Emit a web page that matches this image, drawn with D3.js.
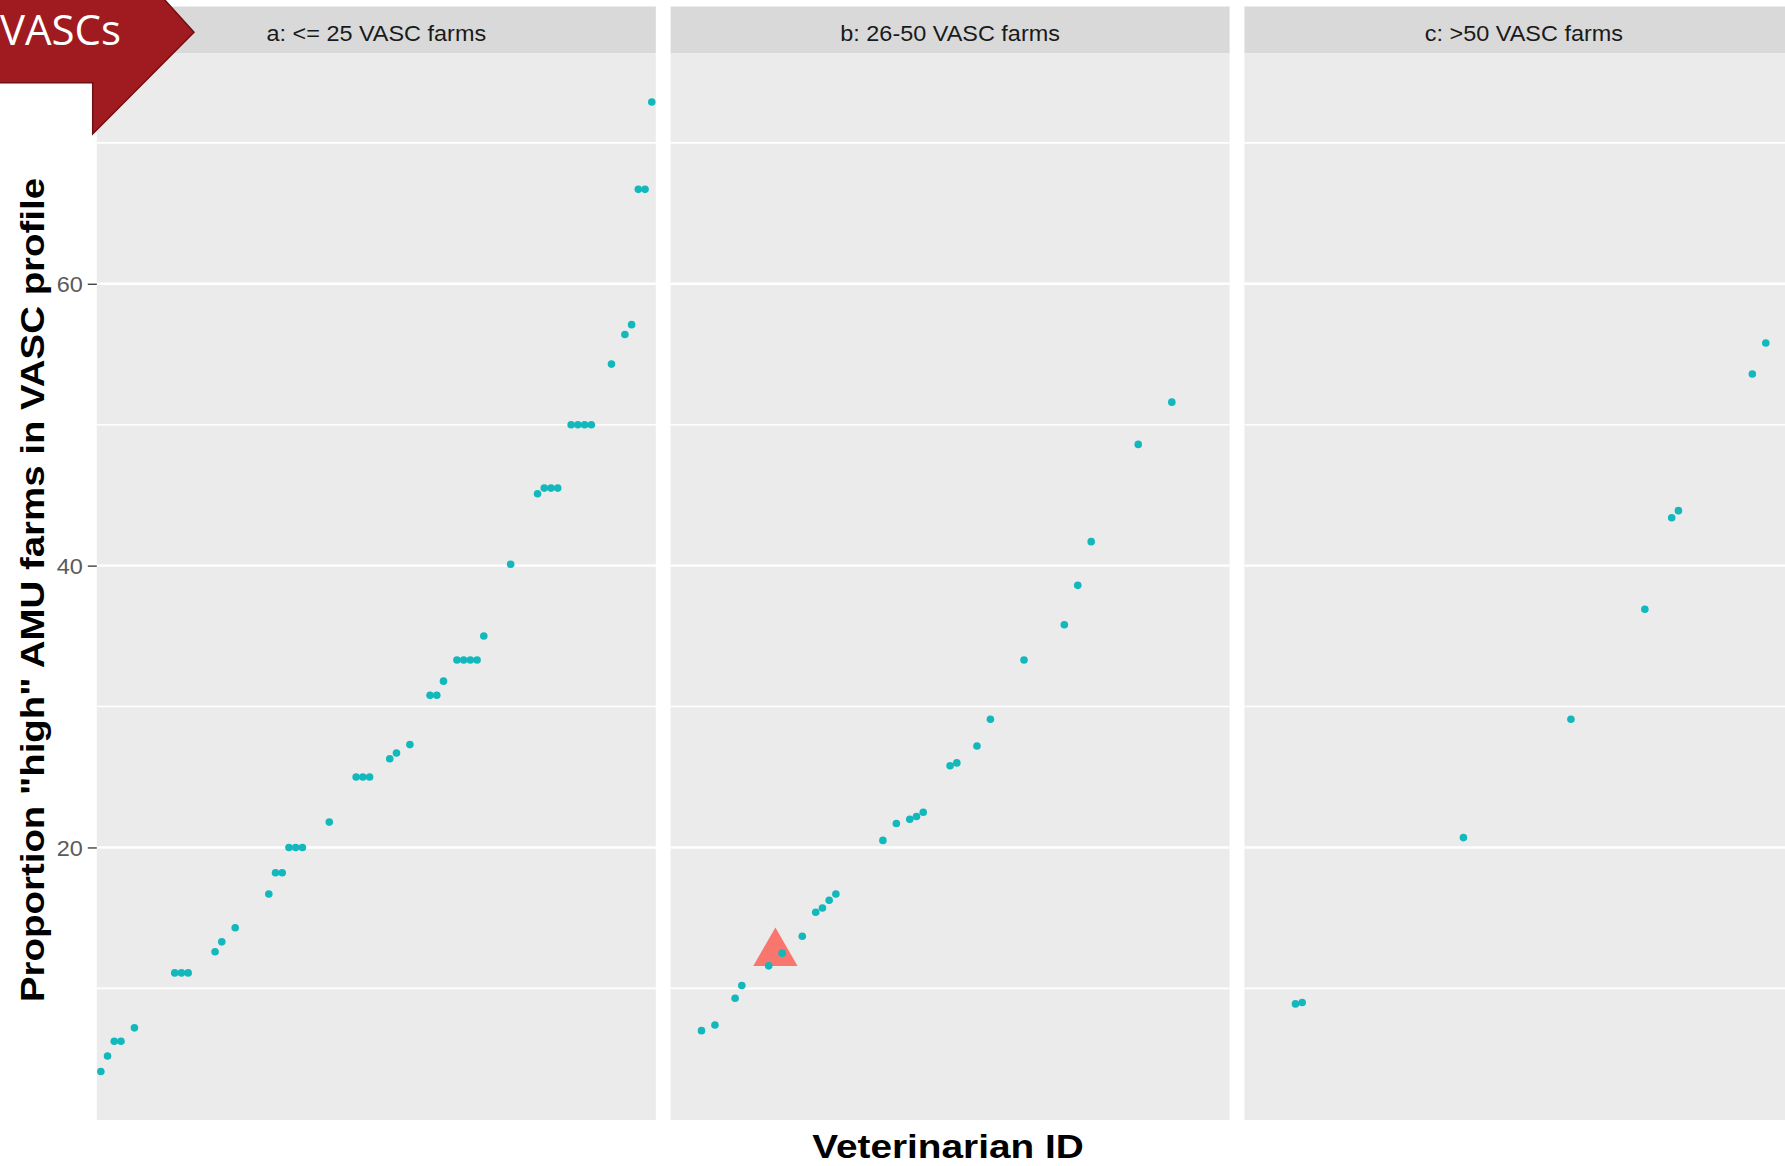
<!DOCTYPE html>
<html><head><meta charset="utf-8">
<script src="https://cdn.jsdelivr.net/npm/d3@7"></script>
<style>html,body{margin:0;padding:0;background:#fff;overflow:hidden}</style>
</head><body>
<script>
// ---- data ----
const panelLabels = ["a: <= 25 VASC farms", "b: 26-50 VASC farms", "c: >50 VASC farms"];
// Veterinarian ID (rank order on the shared discrete x axis) and proportion per panel
const vetA  = [1,2,3,4,6,12,13,14,18,19,21,26,27,28,29,30,31,35,39,40,41,44,45,47,50,51,52,54,55,56,57,58,62,66,67,68,69,71,72,73,74,77,79,80,81,82,83];
const propA = [4.1,5.2,6.25,6.25,7.2,11.1,11.1,11.1,12.6,13.3,14.3,16.7,18.2,18.2,20,20,20,21.8,25,25,25,26.3,26.7,27.3,30.8,30.8,31.8,33.3,33.3,33.3,33.3,35.0,40.1,45.1,45.5,45.5,45.5,50,50,50,50,54.3,56.4,57.1,66.7,66.7,72.9];
const vetB  = [5,7,10,11,15,16,17,20,22,23,24,25,32,34,36,37,38,42,43,46,48,53,59,61,63,70,75];
const propB = [7.0,7.4,9.3,10.2,11.6,12.5,12.5,13.7,15.4,15.7,16.25,16.7,20.5,21.7,22.0,22.2,22.5,25.8,26.0,27.2,29.1,33.3,35.8,38.6,41.7,48.6,51.6];
const vetC  = [8,9,33,49,60,64,65,76,78];
const propC = [8.9,9.0,20.7,29.1,36.9,43.4,43.9,53.6,55.8];
const highlightVet = 16;           // shown as the red triangle in panel b
const yMajorTicks = [20,40,60];
const yMinorTicks = [10,30,50,70];
const xTitle = "Veterinarian ID";
const yTitle = 'Proportion "high" AMU farms in VASC profile';
const bannerText = "VASCs";

// ---- layout ----
const W = 1785, H = 1166;
const panelX0 = 96.8, panelW = 559, panelGap = 14.8;
const stripTop = 6.5, stripBottom = 53.5, panelBottom = 1120;
const FONT = "'Liberation Sans', Arial, Helvetica, sans-serif";
const STRETCH = 1.09;

const svg = d3.select("body").append("svg").attr("width", W).attr("height", H);
svg.append("rect").attr("width", W).attr("height", H).attr("fill", "#fff");

const panels = [
  {label: panelLabels[0], vets: vetA, props: propA},
  {label: panelLabels[1], vets: vetB, props: propB},
  {label: panelLabels[2], vets: vetC, props: propC}
];

const allVets = [...vetA, ...vetB, ...vetC].sort((a, b) => a - b);
const allProps = [...propA, ...propB, ...propC];
const [lo, hi] = d3.extent(allProps);
const pad = (hi - lo) * 0.05;
const y = d3.scaleLinear().domain([lo - pad, hi + pad]).range([panelBottom, stripBottom]);
const x = d3.scalePoint().domain(allVets).range([0, panelW]).padding(0.6);

function stretchText(sel, factor) {
  sel.each(function() {
    const len = this.getComputedTextLength();
    d3.select(this).attr("textLength", len * factor).attr("lengthAdjust", "spacingAndGlyphs");
  });
}

panels.forEach((p, i) => {
  const gx = panelX0 + i * (panelW + panelGap);
  const g = svg.append("g").attr("transform", `translate(${gx},0)`);
  // strip
  g.append("rect").attr("x", 0).attr("y", stripTop).attr("width", panelW)
    .attr("height", stripBottom - stripTop).attr("fill", "#D9D9D9");
  const st = g.append("text").attr("x", panelW / 2).attr("y", 40.5)
    .attr("text-anchor", "middle").attr("font-family", FONT).attr("font-size", 21.5)
    .attr("fill", "#1A1A1A").text(p.label);
  stretchText(st, STRETCH);
  // panel background
  g.append("rect").attr("x", 0).attr("y", stripBottom).attr("width", panelW)
    .attr("height", panelBottom - stripBottom).attr("fill", "#EBEBEB");
  // grid
  g.selectAll("line.minor").data(yMinorTicks).join("line").attr("class", "minor")
    .attr("x1", 0).attr("x2", panelW).attr("y1", d => y(d)).attr("y2", d => y(d))
    .attr("stroke", "#fff").attr("stroke-width", 1.6);
  g.selectAll("line.major").data(yMajorTicks).join("line").attr("class", "major")
    .attr("x1", 0).attr("x2", panelW).attr("y1", d => y(d)).attr("y2", d => y(d))
    .attr("stroke", "#fff").attr("stroke-width", 2.4);

  const pts = p.vets.map((v, k) => ({vet: v, prop: p.props[k]}));
  // highlighted vet (triangle)
  const hl = pts.filter(d => d.vet === highlightVet);
  g.selectAll("path.hl").data(hl).join("path").attr("class", "hl")
    .attr("d", d3.symbol(d3.symbolTriangle, 850))
    .attr("transform", d => `translate(${x(d.vet)},${y(d.prop)})`)
    .attr("fill", "#F8766D");
  // points
  g.selectAll("circle").data(pts.filter(d => d.vet !== highlightVet)).join("circle")
    .attr("cx", d => x(d.vet)).attr("cy", d => y(d.prop)).attr("r", 3.8)
    .attr("fill", "#12B8BB");
});

// y axis (left of panel a)
const yAxis = svg.append("g").attr("transform", `translate(${panelX0},0)`)
  .call(d3.axisLeft(y).tickValues(yMajorTicks).tickSize(9).tickPadding(5).tickFormat(d3.format("d")));
yAxis.select(".domain").remove();
yAxis.selectAll(".tick line").attr("stroke", "#333").attr("stroke-width", 1.3);
yAxis.selectAll(".tick text").attr("fill", "#5A5A5A").attr("font-family", FONT)
  .attr("font-size", 21.5).attr("dy", "0.36em");
stretchText(yAxis.selectAll(".tick text"), STRETCH);

// axis titles
const xt = svg.append("text").attr("x", 948).attr("y", 1158)
  .attr("text-anchor", "middle").attr("font-family", FONT).attr("font-weight", "bold")
  .attr("font-size", 34).attr("fill", "#000").text(xTitle);
stretchText(xt, 1.14);
const yt = svg.append("text").attr("transform", "translate(44,590) rotate(-90)")
  .attr("text-anchor", "middle").attr("font-family", FONT).attr("font-weight", "bold")
  .attr("font-size", 34).attr("fill", "#000").text(yTitle);
stretchText(yt, 1.13);

// banner (slide decoration)
svg.append("path")
  .attr("d", d3.line()([[-2,-2],[163,-2],[194,32.3],[92.7,134],[92.7,82.7],[-2,82.7]]) + "Z")
  .attr("fill", "#A01B20").attr("stroke", "#6E1013").attr("stroke-width", 1.5);
svg.append("text").attr("x", 121).attr("y", 45).attr("text-anchor", "end")
  .attr("font-family", "'Open Sans', 'Noto Sans', sans-serif").attr("font-size", 42)
  .attr("fill", "#fff").text(bannerText);
</script>
</body></html>
